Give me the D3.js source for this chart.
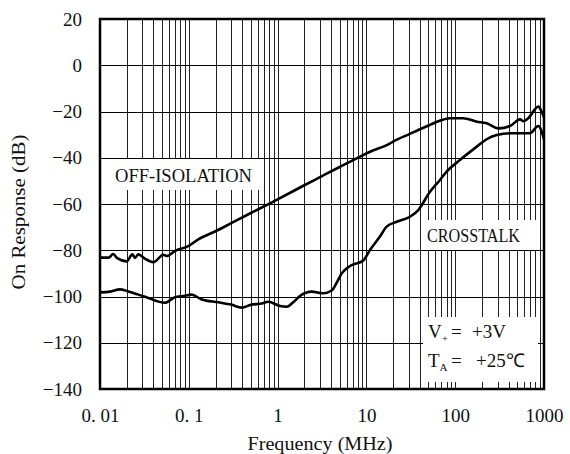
<!DOCTYPE html>
<html>
<head>
<meta charset="utf-8">
<script src="https://cdn.jsdelivr.net/npm/d3@7"></script>
</head>
<body style="margin:0">
<script>
// ---- data ----
const freqTicks = [0.01, 0.1, 1, 10, 100, 1000];
const freqTickLabels = ["0. 01", "0. 1", "1", "10", "100", "1000"];
const dbTicks = [20, 0, -20, -40, -60, -80, -100, -120, -140];

const offIsoFreq = [0.01, 0.0125, 0.0141, 0.0155, 0.02, 0.0231, 0.0248, 0.027, 0.032, 0.0398, 0.0516, 0.0564, 0.07, 0.0987, 0.128, 0.2, 0.3, 0.5, 0.821, 1, 2, 3, 5, 8.5, 11, 18.5, 20, 30, 40, 52, 67, 87, 123, 175, 226, 306, 414, 537, 585, 665, 862, 942, 1000];
const offIsoDb   = [-83.2, -83.2, -81.6, -83.3, -84.8, -81.8, -83.3, -81.8, -83.6, -85.2, -82.0, -82.5, -80.3, -78.2, -75.3, -71.8, -68.3, -63.9, -59.7, -58.0, -51.9, -48.4, -44.0, -39.5, -37.4, -33.8, -33.0, -29.9, -27.7, -25.8, -24.0, -22.9, -22.9, -24.4, -25.1, -27.3, -26.3, -23.4, -24.2, -22.9, -17.9, -20.1, -22.5];

const crossFreq = [0.01, 0.013, 0.0168, 0.0208, 0.0321, 0.054, 0.0699, 0.0867, 0.1078, 0.1397, 0.2149, 0.3, 0.394, 0.5, 0.662, 0.786, 1.07, 1.266, 1.5, 1.786, 2.42, 3.27, 4.06, 4.63, 5.27, 6.54, 9.23, 10.98, 14.2, 16.9, 21.9, 31, 38.4, 52, 67.4, 80, 113, 175, 226, 293, 414, 695, 862, 1000];
const crossDb   = [-98.2, -97.9, -96.9, -97.8, -100.1, -102.7, -100.3, -99.8, -99.2, -101.3, -102.5, -103.5, -104.8, -103.6, -103.0, -102.3, -104.1, -104.4, -102.5, -99.8, -97.9, -98.6, -97.4, -94.0, -90.0, -86.8, -84.4, -79.9, -74.1, -69.8, -67.7, -65.5, -62.6, -54.7, -49.6, -46.0, -41.0, -35.2, -32.0, -30.2, -29.4, -29.4, -26.3, -32.0];

// ---- layout ----
const FONT = '"Liberation Serif"';
const W = 570, H = 454;
const m = { left: 100, top: 19, right: 26, bottom: 65 };
const pw = W - m.left - m.right, ph = H - m.top - m.bottom;

const svg = d3.select("body").append("svg").attr("width", W).attr("height", H)
  .attr("font-family", "Liberation Serif");
const g = svg.append("g").attr("transform", `translate(${m.left},${m.top})`);

const x = d3.scaleLog().domain([0.01, 1000]).range([0, pw]);
const y = d3.scaleLinear().domain([-140, 20]).range([ph, 0]);

// grid: minor + major verticals
const vLines = [];
for (let e = -2; e < 3; e++) {
  for (let k = 1; k <= 9; k++) vLines.push(k * Math.pow(10, e));
}
vLines.push(1000);
g.append("g").selectAll("line").data(vLines).join("line")
  .attr("x1", d => Math.round(x(d)) + 0.5).attr("x2", d => Math.round(x(d)) + 0.5)
  .attr("y1", 0).attr("y2", ph)
  .attr("stroke", "#222").attr("stroke-width", 1);

g.append("g").selectAll("line").data(dbTicks).join("line")
  .attr("x1", 0).attr("x2", pw)
  .attr("y1", d => Math.round(y(d)) + 0.5).attr("y2", d => Math.round(y(d)) + 0.5)
  .attr("stroke", "#000").attr("stroke-width", 1);

// label boxes (white backgrounds hiding grid)
g.append("rect").attr("x", 1).attr("y", 140).attr("width", 160).attr("height", 31).attr("fill", "#fff");
g.append("rect").attr("x", 323).attr("y", 201).attr("width", 114).attr("height", 30).attr("fill", "#fff");
g.append("rect").attr("x", 323).attr("y", 298).attr("width", 115).attr("height", 65).attr("fill", "#fff");

// curves
svg.append("clipPath").attr("id", "clip").append("rect").attr("width", pw).attr("height", ph);
const line = d3.line().x(d => x(d[0])).y(d => y(d[1])).curve(d3.curveMonotoneX);
const curves = g.append("g").attr("clip-path", "url(#clip)");
curves.append("path").datum(offIsoFreq.map((f, i) => [f, offIsoDb[i]]))
  .attr("d", line).attr("fill", "none").attr("stroke", "#000").attr("stroke-width", 2.6).attr("stroke-linejoin", "round");
curves.append("path").datum(crossFreq.map((f, i) => [f, crossDb[i]]))
  .attr("d", line).attr("fill", "none").attr("stroke", "#000").attr("stroke-width", 2.6).attr("stroke-linejoin", "round");

// frame
g.append("rect").attr("x", 0).attr("y", 0).attr("width", pw).attr("height", ph)
  .attr("fill", "none").attr("stroke", "#000").attr("stroke-width", 2.5);

function txt(sel, size) {
  return sel.attr("font-family", "Liberation Serif").style("font-family", FONT)
    .attr("font-size", size).attr("fill", "#111");
}

// axes (labels only)
const xAxis = d3.axisBottom(x).tickValues(freqTicks).tickFormat((d, i) => freqTickLabels[i]).tickSize(0).tickPadding(20);
const xa = g.append("g").attr("transform", `translate(0,${ph})`).call(xAxis).attr("font-family", "Liberation Serif");
xa.select(".domain").remove();
txt(xa.selectAll("text"), 19);

const yAxis = d3.axisLeft(y).tickValues(dbTicks).tickFormat(d3.format("d")).tickSize(0).tickPadding(18);
const ya = g.append("g").call(yAxis).attr("font-family", "Liberation Serif");
ya.select(".domain").remove();
txt(ya.selectAll("text"), 19);

// axis titles
txt(svg.append("text"), 19).attr("x", 320).attr("y", 450).attr("text-anchor", "middle")
  .attr("textLength", 145).attr("lengthAdjust", "spacingAndGlyphs")
  .text("Frequency (MHz)");
txt(svg.append("text"), 19).attr("transform", "translate(25,212) rotate(-90)").attr("text-anchor", "middle")
  .attr("textLength", 155).attr("lengthAdjust", "spacingAndGlyphs")
  .text("On Response (dB)");

// in-plot labels
txt(svg.append("text"), 18).attr("x", 115).attr("y", 182)
  .attr("textLength", 137).attr("lengthAdjust", "spacingAndGlyphs").text("OFF-ISOLATION");
txt(svg.append("text"), 18).attr("x", 427).attr("y", 242)
  .attr("textLength", 93).attr("lengthAdjust", "spacingAndGlyphs").text("CROSSTALK");

const t1 = txt(svg.append("text"), 19).attr("y", 338);
t1.append("tspan").attr("x", 428).text("V");
t1.append("tspan").attr("font-size", 11).attr("dy", 4).text("+");
t1.append("tspan").attr("x", 451).attr("dy", -4).text("=");
t1.append("tspan").attr("x", 472).text("+3V");

const t2 = txt(svg.append("text"), 19).attr("y", 367);
t2.append("tspan").attr("x", 428).text("T");
t2.append("tspan").attr("font-size", 11).attr("dy", 4).text("A");
t2.append("tspan").attr("x", 451).attr("dy", -4).text("=");
t2.append("tspan").attr("x", 476).text("+25℃");
</script>
</body>
</html>
